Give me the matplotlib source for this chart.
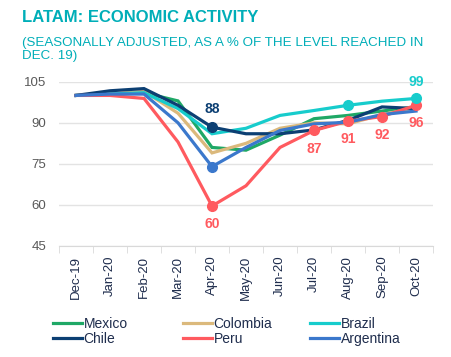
import numpy as np
import matplotlib.pyplot as plt

plt.rcParams['font.family'] = ['Liberation Sans', 'DejaVu Sans']

months = ["Dec-19", "Jan-20", "Feb-20", "Mar-20", "Apr-20", "May-20",
          "Jun-20", "Jul-20", "Aug-20", "Sep-20", "Oct-20"]

mexico = [100, 100.5, 101.0, 98.0, 81.0, 80.0, 85.5, 91.5, 92.7, 94.3, 95.8]
colombia = [100, 100.5, 101.5, 93.5, 79.0, 82.5, 88.0, 90.0, 89.6, 93.0, 95.5]
brazil = [100, 100.5, 101.0, 95.2, 86.0, 88.0, 92.7, 94.5, 96.4, 97.9, 98.9]
chile = [100, 101.7, 102.5, 96.4, 88.4, 86.0, 86.0, 87.4, 90.9, 95.8, 95.2]
peru = [100, 100.0, 98.9, 83.0, 59.6, 67.0, 81.0, 87.2, 90.6, 92.3, 96.4]
argentina = [100, 100.5, 100.5, 90.0, 74.0, 81.0, 87.2, 89.6, 90.2, 93.0, 94.3]

# highlighted points (month index) and their labels
chile_marks = [4]
chile_labels = ["88"]
argentina_marks = [4]
peru_marks = [4, 7, 8, 9, 10]
peru_labels = ["60", "87", "91", "92", "96"]
brazil_marks = [8, 10]
brazil_labels = [None, "99"]

C_MEX = "#1fa866"
C_COL = "#dbb97c"
C_BRA = "#17cccc"
C_CHI = "#0c3f73"
C_PER = "#ff5a5f"
C_ARG = "#3b78cc"
TEAL = "#00aeb8"

fig = plt.figure(figsize=(4.52, 3.57), dpi=100)
ax = fig.add_axes([0.1305, 0.311, 0.8275, 0.46])

x = np.arange(len(months))
lw = 2.3
series = [("Mexico", mexico, C_MEX), ("Colombia", colombia, C_COL),
          ("Brazil", brazil, C_BRA), ("Chile", chile, C_CHI),
          ("Peru", peru, C_PER), ("Argentina", argentina, C_ARG)]
handles = {}
for name, vals, col in series:
    ln, = ax.plot(x, vals, color=col, lw=lw, solid_joinstyle="miter", label=name)
    handles[name] = ln

def mark(vals, idx, col):
    ax.plot([x[i] for i in idx], [vals[i] for i in idx], "o", color=col,
            ms=7, zorder=5)

mark(chile, chile_marks, C_CHI)
mark(argentina, argentina_marks, C_ARG)
mark(peru, peru_marks, C_PER)
mark(brazil, brazil_marks, C_BRA)

for i, t in zip(chile_marks, chile_labels):
    ax.annotate(t, (x[i], chile[i]), xytext=(0, 8), textcoords="offset points",
                ha="center", va="bottom", color=C_CHI, fontsize=10, fontweight="bold")
for i, t in zip(peru_marks, peru_labels):
    ax.annotate(t, (x[i], peru[i]), xytext=(0, -8), textcoords="offset points",
                ha="center", va="top", color=C_PER, fontsize=10, fontweight="bold")
for i, t in zip(brazil_marks, brazil_labels):
    if t:
        ax.annotate(t, (x[i], brazil[i]), xytext=(0, 7), textcoords="offset points",
                    ha="center", va="bottom", color=C_BRA, fontsize=10, fontweight="bold")

ax.set_xlim(-0.5, len(months) - 0.5)
ax.set_ylim(45, 105)
ax.set_yticks([45, 60, 75, 90, 105])
ax.yaxis.grid(True, color="#e3e3e3", lw=1)
ax.set_axisbelow(True)
for s in ["top", "right", "left"]:
    ax.spines[s].set_visible(False)
ax.spines["bottom"].set_color("#d9d9d9")
ax.tick_params(axis="y", length=0, pad=9, labelsize=9.5, labelcolor="#595959")

ax.set_xticks(x)
ax.set_xticklabels(months, rotation=90, fontsize=9.5, color="#1f2d4d")
ax.tick_params(axis="x", length=0, pad=7)
ax.set_xticks(np.arange(-0.5, len(months)), minor=True)
ax.tick_params(axis="x", which="minor", length=5, color="#d9d9d9")

fig.text(0.049, 0.952, "LATAM: ECONOMIC ACTIVITY", color=TEAL, fontsize=12,
         fontweight="bold", va="center", ha="left")
fig.text(0.049, 0.862, "(SEASONALLY ADJUSTED, AS A % OF THE LEVEL REACHED IN\nDEC. 19)",
         color=TEAL, fontsize=9.6, va="center", ha="left", linespacing=1.1)

cols = [(["Mexico", "Chile"], 0.117), (["Colombia", "Peru"], 0.405),
        (["Brazil", "Argentina"], 0.686)]
for names, xpos in cols:
    leg = fig.legend([handles[n] for n in names], names, loc="center left",
                     bbox_to_anchor=(xpos, 0.071), frameon=False, fontsize=10,
                     handlelength=2.1, handletextpad=0.1, labelspacing=0.1,
                     borderaxespad=0, borderpad=0)
    for t in leg.get_texts():
        t.set_color("#1f2d4d")

fig.savefig("out.png", dpi=100)
